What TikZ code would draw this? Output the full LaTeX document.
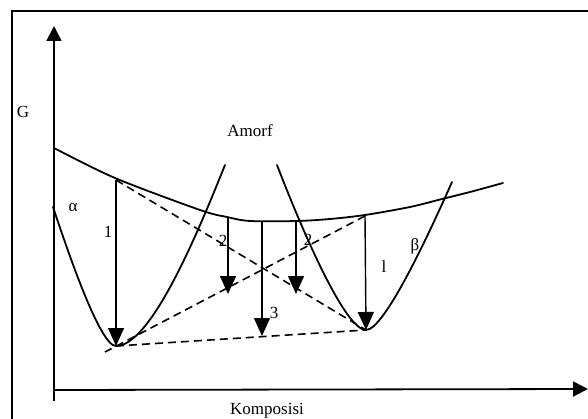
\documentclass[tikz,border=0pt]{standalone}
\usepackage{fontspec}
\setmainfont{Liberation Serif}
\usetikzlibrary{arrows.meta}
\begin{document}
\begin{tikzpicture}[x=1pt,y=-1pt,
  curve/.style={line width=1.8pt,line join=round,line cap=round},
  dsh/.style={line width=1.6pt,dash pattern=on 8pt off 5pt},
  drop/.style={line width=1.4pt,-{Triangle[length=18pt,width=16pt]}},
  axis/.style={line width=1.8pt,-{Triangle[length=15pt,width=15pt]}},
  lbl/.style={font=\fontsize{17}{19}\selectfont,inner sep=0pt}]
\useasboundingbox (0,0) rectangle (588,419);
% frame
\draw[line width=2.4pt] (12,419) -- (12,11) -- (588,11);
% axes
\coordinate (o) at (54,390);
\coordinate (ybot) at (54,401);
\coordinate (ytop) at (54,26);
\coordinate (xend) at (588,389);
\draw[axis] (ybot) -- (ytop);
\draw[axis] (o) -- (xend);
% labels
\node[lbl] (G) at (23,112) {G};
\node[lbl] (am) at (250,131) {Amorf};
\node[lbl] (kom) at (267,411) {Komposisi};
\node[lbl] (al) at (73,208) {α};
\node[lbl] (be) at (415,246) {β};
% amorphous curve
\draw[curve] plot[smooth,tension=0.5] coordinates {(54,148) (115,178) (200,210) (227,217) (250,221) (297,221) (330,219) (365,215) (410,207) (442,199) (470,192) (503,183)};
% alpha curve
\draw[curve] (53,207) .. controls (68,252) and (100,346) .. (116,346)
  .. controls (150,346) and (195,240) .. (225,165);
% beta curve
\draw[curve] (277,165) .. controls (302,230) and (345,330) .. (366,330)
  .. controls (385,330) and (432,227) .. (452,182);
% key points
\coordinate (a1) at (116,180);
\coordinate (amin) at (116,346);
\coordinate (b1) at (365,216);
\coordinate (bmin) at (366,330);
\coordinate (aext) at (105,352);
\coordinate (t2a) at (228,218);
\coordinate (h2a) at (228,294);
\coordinate (t3) at (262,221);
\coordinate (h3) at (262,336);
\coordinate (t2b) at (296,221);
\coordinate (h2b) at (296,294);
% dashed lines
\draw[dsh] (a1) -- (bmin);
\draw[dsh] (b1) -- (aext);
\draw[dsh] (amin) -- (bmin);
% arrows
\draw[drop] (a1) -- (amin);
\draw[drop] (b1) -- (bmin);
\draw[drop] (t2a) -- (h2a);
\draw[drop] (t3) -- (h3);
\draw[drop] (t2b) -- (h2b);
% numbers
\node[lbl] (n1a) at (108,232) {1};
\node[lbl] (n2a) at (223,241) {2};
\node[lbl] (n3) at (274,313) {3};
\node[lbl] (n2b) at (308,240) {2};
\node[lbl] (n1b) at (384,267) {l};
\end{tikzpicture}
\end{document}
